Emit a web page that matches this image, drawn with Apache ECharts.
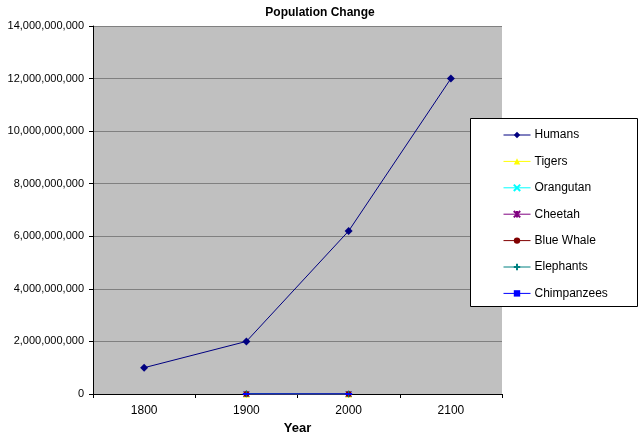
<!DOCTYPE html>
<html>
<head>
<meta charset="utf-8">
<script src="https://cdn.jsdelivr.net/npm/echarts@6/dist/echarts.min.js"></script>
<style>
  html, body { margin: 0; padding: 0; background: #fff; }
  #main { width: 640px; height: 434px; }
</style>
</head>
<body>
<div id="main"></div>
<script>
// data
var years = ['1800', '1900', '2000', '2100'];
var humans = [1000000000, 2000000000, 6200000000, 12000000000];
var tigers = [null, 100000, 5000, null];
var orangutan = [null, 315000, 50000, null];
var cheetah = [null, 100000, 12000, null];
var blueWhale = [null, 250000, 10000, null];
var elephants = [null, 10000000, 500000, null];
var chimpanzees = [null, 1000000, 200000, null];
var yTicks = [0, 2000000000, 4000000000, 6000000000, 8000000000, 10000000000, 12000000000, 14000000000];

var font = 'Arial, "Liberation Sans", sans-serif';

// marker shapes like the Excel ones
var xMark = 'path://M0,0L10,10M10,0L0,10';
var starMark = 'path://M0,0L10,10M10,0L0,10M5,0L5,10';
var plusMark = 'path://M5,0L5,10M0,5L10,5';

function line(name, data, color, symbol, size, stroked) {
    return {
        name: name,
        type: 'line',
        data: data,
        symbol: symbol,
        symbolSize: size,
        showSymbol: true,
        connectNulls: false,
        animation: false,
        lineStyle: { color: color, width: 1 },
        itemStyle: stroked ? { color: color, borderColor: color, borderWidth: 1 } : { color: color, borderWidth: 0 },
        emphasis: { disabled: true }
    };
}

var myChart = echarts.init(document.getElementById('main'));

var option = {
    backgroundColor: '#fff',
    animation: false,
    title: {
        text: 'Population Change',
        left: 'center',
        top: 2,
        textStyle: { fontFamily: font, fontSize: 12, fontWeight: 'bold', color: '#000' }
    },
    grid: {
        left: 93, right: 138, top: 26, bottom: 40,
        outerBoundsMode: 'none',
        containLabel: false,
        show: true, backgroundColor: '#c0c0c0', borderWidth: 0
    },
    xAxis: {
        type: 'category',
        data: years,
        boundaryGap: true,
        name: 'Year',
        nameLocation: 'middle',
        nameGap: 23,
        nameTextStyle: { fontFamily: font, fontSize: 13, fontWeight: 'bold', color: '#000' },
        axisLine: { lineStyle: { color: '#000', width: 1 } },
        axisTick: { show: true, length: 4, lineStyle: { color: '#000' } },
        axisLabel: { fontFamily: font, fontSize: 12, color: '#000', margin: 11 }
    },
    yAxis: {
        type: 'value',
        min: yTicks[0],
        max: yTicks[yTicks.length - 1],
        interval: yTicks[1] - yTicks[0],
        axisLine: { show: true, lineStyle: { color: '#000', width: 1 } },
        axisTick: { show: true, length: 4, lineStyle: { color: '#000' } },
        axisLabel: {
            fontFamily: font, fontSize: 11, color: '#000', margin: 9,
            formatter: function (v) { return v.toLocaleString('en-US'); }
        },
        splitLine: { lineStyle: { color: '#808080', width: 1 } }
    },
    legend: {
        orient: 'vertical',
        left: 503,
        top: 129,
        z: 101,
        itemWidth: 27,
        itemHeight: 8,
        itemGap: 14.4,
        padding: 0,
        lineStyle: { width: 1 },
        textStyle: { fontFamily: font, fontSize: 12, color: '#000', padding: [0, 0, 0, -1] },
        data: ['Humans', 'Tigers', 'Orangutan', 'Cheetah', 'Blue Whale', 'Elephants', 'Chimpanzees']
    },
    graphic: [{
        type: 'rect',
        z: 100,
        shape: { x: 470.5, y: 118.5, width: 167, height: 188 },
        style: { fill: '#fff', stroke: '#000', lineWidth: 1 }
    }],
    series: [
        line('Humans', humans, '#000080', 'diamond', 8),
        line('Tigers', tigers, '#ffff00', 'triangle', 7),
        line('Orangutan', orangutan, '#00ffff', xMark, 6, true),
        line('Cheetah', cheetah, '#800080', starMark, 6, true),
        line('Blue Whale', blueWhale, '#800000', 'circle', 6),
        line('Elephants', elephants, '#008080', plusMark, 7, true),
        line('Chimpanzees', chimpanzees, '#0000ff', 'rect', [7, 2])
    ]
};

myChart.setOption(option);
</script>
</body>
</html>
